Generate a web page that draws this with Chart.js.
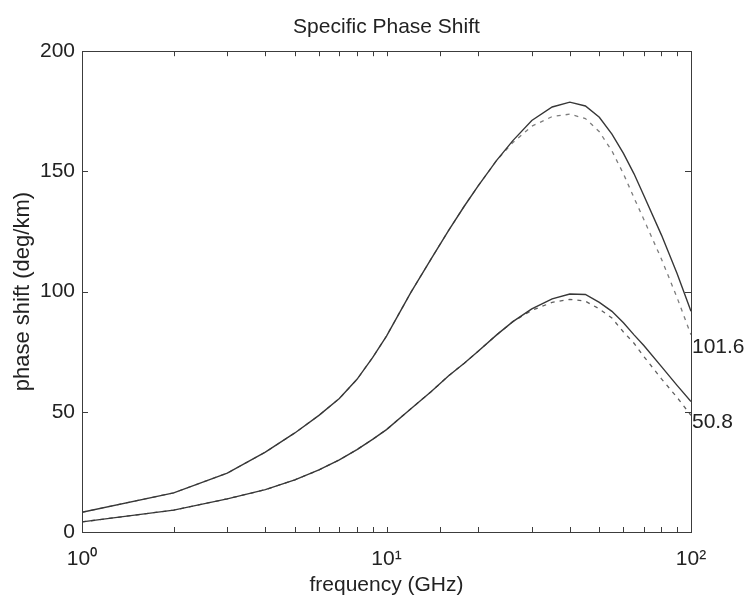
<!DOCTYPE html>
<html>
<head>
<meta charset="utf-8">
<title>Specific Phase Shift</title>
<script src="https://cdn.jsdelivr.net/npm/chart.js@4.4.1/dist/chart.umd.min.js"></script>
<style>
	body { margin: 0; background: #ffffff; }
	#wrap { width: 752px; height: 601px; }
</style>
</head>
<body>
<div id="wrap"><canvas id="mycanvas" width="752" height="601"></canvas></div>
<script>
// frequency (GHz)
var freq = [1, 2, 3, 4, 5, 6, 7, 8, 9, 10, 12, 14, 16, 18, 20, 23, 26, 30, 35, 40, 45, 50, 55, 60, 65, 70, 80, 90, 100];

// rain rate 101.6 mm/h
var upperSolid  = [8.2, 16.3, 24.5, 33.2, 41.2, 48.5, 55.5, 63.5, 72.5, 81.5, 99.5, 113.5, 125.5, 135.5, 144, 154.6, 162.8, 171.2, 176.8, 178.8, 177.2, 172.5, 165.5, 157.5, 149, 140, 123.5, 107.5, 91.8];
var upperDashed = [8.2, 16.3, 24.5, 33.2, 41.2, 48.5, 55.5, 63.5, 72.5, 81.5, 99.5, 113.5, 125.5, 135.5, 144, 154.6, 162, 168.8, 172.8, 173.8, 172, 166.5, 158.5, 149, 139, 130, 113.5, 97.5, 82];

// rain rate 50.8 mm/h
var lowerSolid  = [4.2, 9.1, 13.8, 17.6, 21.7, 25.8, 30, 34.3, 38.5, 42.6, 51.2, 58.3, 65, 70.2, 75.2, 82, 87.5, 92.8, 97, 99, 98.8, 95.5, 91.8, 87, 82, 77.6, 68.8, 61, 54.3];
var lowerDashed = [4.2, 9.1, 13.8, 17.6, 21.7, 25.8, 30, 34.3, 38.5, 42.6, 51.2, 58.3, 65, 70.2, 75.2, 82, 87.5, 92.2, 95.5, 96.8, 96, 92.8, 89, 83.2, 78.5, 73, 63.7, 56, 48.5];

// curve labels at the right edge
var endLabels = ["101.6", "50.8"];
var endLabelY = [76.8, 45.6];

var yTicks = [0, 50, 100, 150, 200];
var xTickText = { 1: "10\u2070", 10: "10\u00B9", 100: "10\u00B2" };

function toPoints(ys) {
	var pts = [];
	for (var i in freq) {
		pts.push({ x: freq[i], y: ys[i] });
	}
	return pts;
}

var fontFamily = "'Liberation Sans', Arial, sans-serif";

// box round the plot with inward ticks on all four sides, plus the end labels
var boxPlugin = {
	id: 'box',
	afterDraw: function(chart) {
		var ctx = chart.ctx;
		var a = chart.chartArea;
		var xs = chart.scales.x;
		var ys = chart.scales.y;
		ctx.save();
		ctx.strokeStyle = "#3c3c3c";
		ctx.lineWidth = 1;
		ctx.beginPath();
		xs.ticks.forEach(function(t) {
			var px = Math.round(xs.getPixelForValue(t.value)) + 0.5;
			ctx.moveTo(px, a.bottom);
			ctx.lineTo(px, a.bottom - 5);
			ctx.moveTo(px, a.top);
			ctx.lineTo(px, a.top + 5);
		});
		ys.ticks.forEach(function(t) {
			var py = Math.round(ys.getPixelForValue(t.value)) + 0.5;
			ctx.moveTo(a.left, py);
			ctx.lineTo(a.left + 6, py);
			ctx.moveTo(a.right, py);
			ctx.lineTo(a.right - 6, py);
		});
		ctx.stroke();
		ctx.strokeRect(Math.round(a.left) + 0.5, Math.round(a.top) + 0.5, Math.round(a.right - a.left), Math.round(a.bottom - a.top));

		ctx.fillStyle = "#222";
		ctx.font = "21px " + fontFamily;
		ctx.textAlign = "left";
		ctx.textBaseline = "middle";
		for (var i in endLabels) {
			ctx.fillText(endLabels[i], xs.getPixelForValue(100) + 1, ys.getPixelForValue(endLabelY[i]));
		}
		ctx.restore();
	}
};

var chartdata = {
	datasets: [
		{
			label: "101.6 solid",
			data: toPoints(upperSolid),
			borderColor: "rgba(55, 55, 55, 1)",
			borderWidth: 1.4,
			pointRadius: 0,
			tension: 0,
			fill: false
		},
		{
			label: "50.8 solid",
			data: toPoints(lowerSolid),
			borderColor: "rgba(55, 55, 55, 1)",
			borderWidth: 1.4,
			pointRadius: 0,
			tension: 0,
			fill: false
		},
		{
			label: "101.6 dashed",
			data: toPoints(upperDashed),
			borderColor: "rgba(125, 125, 125, 1)",
			borderWidth: 1.3,
			borderDash: [4, 5],
			pointRadius: 0,
			tension: 0,
			fill: false
		},
		{
			label: "50.8 dashed",
			data: toPoints(lowerDashed),
			borderColor: "rgba(95, 95, 95, 1)",
			borderWidth: 1.3,
			borderDash: [4, 5],
			pointRadius: 0,
			tension: 0,
			fill: false
		}
	]
};

var ctx = document.getElementById("mycanvas");

var LineGraph = new Chart(ctx, {
	type: 'line',
	data: chartdata,
	plugins: [boxPlugin],
	options: {
		responsive: false,
		animation: false,
		layout: { padding: { left: 0, right: 61, top: 0, bottom: 0 } },
		plugins: {
			legend: { display: false },
			tooltip: { enabled: false },
			title: {
				display: true,
				text: "Specific Phase Shift",
				fullSize: false,
				color: "#222",
				font: { family: fontFamily, size: 21, weight: 'normal' },
				padding: { top: 15, bottom: 11 }
			}
		},
		scales: {
			x: {
				type: 'logarithmic',
				min: 1,
				max: 100,
				grid: { display: false, drawTicks: false },
				border: { display: false },
				afterFit: function(s) { s.height = 69; },
				ticks: {
					autoSkip: false,
					maxRotation: 0,
					padding: 15,
					color: "#222",
					font: { family: fontFamily, size: 21 },
					callback: function(value) {
						return xTickText[value] || "";
					}
				},
				title: {
					display: true,
					text: "frequency (GHz)",
					color: "#222",
					font: { family: fontFamily, size: 21 },
					padding: { top: 0, bottom: 3 }
				}
			},
			y: {
				min: 0,
				max: 200,
				grid: { display: false, drawTicks: false },
				border: { display: false },
				afterFit: function(s) { s.width = 82; },
				afterBuildTicks: function(s) {
					s.ticks = yTicks.map(function(v) { return { value: v }; });
				},
				ticks: {
					padding: 7,
					color: "#222",
					font: { family: fontFamily, size: 21 }
				},
				title: {
					display: true,
					text: "phase shift (deg/km)",
					color: "#222",
					font: { family: fontFamily, size: 22 },
					padding: { top: 10, bottom: 0 }
				}
			}
		}
	}
});
</script>
</body>
</html>
